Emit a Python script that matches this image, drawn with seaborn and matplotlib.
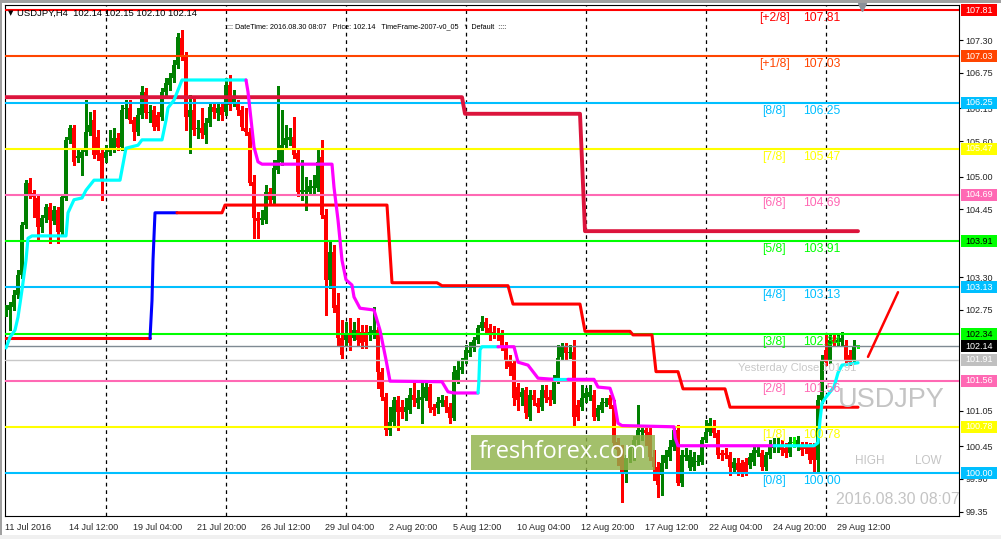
import matplotlib
matplotlib.use('Agg')
import matplotlib.pyplot as plt
import matplotlib.transforms as mtransforms
from matplotlib.patches import Rectangle
import numpy as np
import pandas as pd
import seaborn as sns

# H4 candles, bar 0 = left edge of the window
opens = [
    102.70, 102.75, 102.80, 103.00, 103.34, 104.18, 104.89, 104.72, 104.64, 104.15,
    104.30, 104.49, 104.25, 104.44, 104.07, 104.64, 105.62, 105.82, 105.31, 105.31,
    105.42, 105.75, 105.95, 105.67, 105.40, 105.31, 105.42, 105.48, 105.65, 105.50,
    106.14, 106.16, 105.95, 105.75, 106.04, 106.43, 106.07, 106.12, 106.04, 106.00,
    106.43, 106.55, 106.66, 106.88, 107.34, 107.05, 106.00, 106.12, 105.80, 105.82,
    105.70, 105.90, 106.17, 106.07, 106.17, 106.09, 106.55, 106.24, 106.24, 106.12,
    105.82, 105.75, 104.91, 104.30, 104.27, 104.27, 104.74, 104.61, 105.11, 105.25,
    105.53, 105.62, 105.67, 105.40, 104.74, 104.74, 104.74, 104.81, 104.81, 105.33,
    104.35, 103.26, 103.73, 102.83, 102.28, 102.24, 102.36, 102.28, 102.41, 102.38,
    102.38, 102.33, 102.33, 102.41, 101.70, 101.28, 100.73, 100.86, 101.23, 101.11,
    101.03, 101.06, 101.32, 101.18, 101.23, 101.27, 101.45, 101.11, 101.10, 101.18,
    101.23, 101.11, 100.93, 101.57, 101.74, 101.91, 102.02, 102.11, 102.24, 102.45,
    102.55, 102.45, 102.38, 102.36, 102.33, 102.13, 101.91, 101.86, 101.45, 101.28,
    101.40, 100.94, 101.32, 101.18, 101.11, 101.40, 101.28, 101.23, 101.57, 101.96,
    102.13, 102.02, 102.04, 101.15, 101.11, 101.27, 101.28, 101.32, 100.94, 101.06,
    101.18, 101.27, 101.15, 100.52, 100.39, 100.00, 100.25, 100.42, 100.56, 100.69,
    100.73, 100.69, 100.27, 100.10, 99.97, 100.17, 100.27, 100.44, 100.73, 99.83,
    100.27, 100.08, 100.10, 100.18, 100.18, 100.56, 100.69, 100.76, 100.68, 100.34,
    100.34, 100.30, 100.08, 100.17, 100.17, 100.18, 100.14, 100.18, 100.34, 100.34,
    100.10, 100.30, 100.42, 100.44, 100.47, 100.42, 100.34, 100.51, 100.44, 100.44,
    100.44, 100.44, 100.44, 100.22, 101.23, 102.08, 101.91, 102.24, 102.19, 102.21,
    102.16, 101.99, 101.91, 102.15,
]
closes = [
    102.78, 102.83, 103.00, 103.34, 104.18, 104.89, 104.69, 104.66, 104.15, 104.30,
    104.49, 104.27, 104.44, 104.07, 104.66, 105.62, 105.82, 105.25, 105.35, 105.42,
    105.75, 105.87, 105.36, 105.36, 104.94, 105.42, 105.48, 105.65, 105.50, 106.12,
    106.16, 105.95, 105.75, 106.04, 106.43, 106.07, 106.09, 105.84, 105.84, 106.43,
    106.58, 106.66, 106.88, 107.35, 107.05, 106.00, 106.12, 105.79, 105.82, 105.73,
    105.90, 106.17, 106.09, 106.16, 106.04, 106.55, 106.21, 106.33, 106.12, 105.84,
    105.75, 104.89, 104.30, 104.25, 104.30, 104.74, 104.61, 105.15, 105.28, 105.53,
    105.65, 105.67, 105.36, 104.74, 104.77, 104.77, 104.84, 104.84, 105.25, 104.35,
    103.26, 103.73, 102.78, 102.28, 101.99, 102.33, 102.19, 102.41, 102.24, 102.19,
    102.21, 102.38, 102.41, 101.70, 101.28, 100.73, 100.86, 101.23, 101.03, 101.03,
    101.11, 101.32, 101.23, 101.27, 101.28, 101.45, 101.10, 101.06, 101.20, 101.23,
    101.11, 100.93, 101.70, 101.74, 101.79, 102.08, 102.08, 102.24, 102.45, 102.55,
    102.45, 102.36, 102.35, 102.33, 102.13, 101.91, 101.79, 101.27, 101.23, 101.37,
    101.01, 101.32, 101.23, 101.11, 101.40, 101.27, 101.23, 101.57, 101.94, 102.13,
    102.02, 102.04, 100.94, 100.94, 101.27, 101.35, 101.37, 100.94, 101.10, 101.20,
    101.20, 101.15, 100.51, 100.39, 100.00, 100.25, 100.42, 100.56, 100.73, 100.73,
    100.68, 100.27, 100.10, 99.80, 100.17, 100.30, 100.44, 100.73, 99.83, 100.30,
    100.30, 100.30, 100.27, 100.20, 100.56, 100.69, 100.84, 100.68, 100.30, 100.30,
    100.30, 100.10, 100.18, 100.05, 100.00, 100.00, 100.27, 100.39, 100.39, 100.10,
    100.30, 100.47, 100.47, 100.47, 100.39, 100.34, 100.52, 100.52, 100.56, 100.39,
    100.41, 100.22, 100.22, 101.23, 101.91, 101.87, 102.24, 102.19, 102.24, 102.28,
    101.91, 101.87, 102.13, 102.14,
]
highs = [
    102.83, 102.88, 103.09, 103.42, 104.23, 104.94, 104.98, 104.77, 104.69, 104.35,
    104.54, 104.56, 104.50, 104.49, 104.69, 105.67, 105.87, 105.87, 105.45, 105.48,
    106.29, 106.09, 106.12, 105.79, 105.45, 105.53, 105.79, 105.82, 105.74, 106.21,
    106.29, 106.29, 106.00, 106.16, 106.53, 106.50, 106.21, 106.19, 106.09, 106.50,
    106.66, 106.75, 106.97, 107.42, 107.47, 107.10, 106.38, 106.34, 105.95, 106.16,
    105.99, 106.24, 106.24, 106.22, 106.24, 106.66, 106.71, 106.46, 106.29, 106.19,
    106.16, 105.82, 105.03, 104.40, 104.44, 104.86, 104.81, 105.28, 106.53, 106.12,
    105.87, 105.82, 106.00, 105.45, 105.28, 104.99, 104.94, 105.03, 105.48, 105.62,
    104.45, 103.93, 103.85, 103.04, 102.58, 102.55, 102.62, 102.55, 102.62, 102.50,
    102.50, 102.48, 102.80, 102.46, 101.77, 101.35, 101.11, 101.28, 101.30, 101.23,
    101.26, 101.43, 101.53, 101.40, 101.52, 101.57, 101.50, 101.16, 101.28, 101.32,
    101.30, 101.18, 101.80, 101.91, 101.94, 102.16, 102.21, 102.29, 102.50, 102.65,
    102.62, 102.51, 102.48, 102.45, 102.41, 102.21, 101.99, 101.91, 101.52, 101.43,
    101.45, 101.40, 101.40, 101.27, 101.48, 101.48, 101.40, 101.65, 102.16, 102.19,
    102.19, 102.16, 102.24, 101.23, 101.48, 101.43, 101.48, 101.40, 101.15, 101.27,
    101.27, 101.32, 101.23, 100.59, 100.47, 100.30, 100.47, 100.63, 101.15, 100.81,
    100.81, 100.76, 100.39, 100.19, 100.30, 100.39, 100.56, 100.78, 100.81, 100.39,
    100.42, 100.39, 100.35, 100.30, 100.61, 100.89, 100.93, 100.89, 100.73, 100.39,
    100.42, 100.35, 100.25, 100.25, 100.22, 100.25, 100.34, 100.46, 100.47, 100.39,
    100.35, 100.56, 100.59, 100.59, 100.56, 100.51, 100.61, 100.61, 100.63, 100.52,
    100.52, 100.51, 100.51, 101.32, 101.99, 102.33, 102.33, 102.36, 102.33, 102.38,
    102.24, 102.08, 102.24, 102.16,
]
lows = [
    102.65, 102.41, 102.75, 102.95, 103.29, 104.13, 104.64, 104.32, 103.93, 104.07,
    104.23, 103.88, 104.20, 103.88, 104.02, 104.61, 105.57, 105.20, 105.25, 105.03,
    105.36, 105.70, 105.31, 105.28, 104.61, 105.25, 105.36, 105.42, 105.45, 105.45,
    105.99, 105.90, 105.62, 105.70, 105.99, 105.99, 105.92, 105.79, 105.79, 105.95,
    106.38, 106.46, 106.60, 106.83, 106.97, 105.79, 105.40, 105.70, 105.65, 105.65,
    105.57, 105.85, 105.99, 105.95, 105.95, 106.04, 106.12, 106.19, 106.04, 105.79,
    105.70, 104.86, 103.96, 103.96, 104.20, 104.22, 104.54, 104.55, 105.06, 105.20,
    105.48, 105.53, 105.31, 104.67, 104.61, 104.44, 104.69, 104.72, 104.76, 104.30,
    102.67, 103.12, 102.72, 102.16, 101.94, 102.16, 102.08, 102.24, 102.16, 102.11,
    102.11, 102.24, 102.28, 101.43, 101.23, 100.64, 100.64, 100.81, 100.73, 100.93,
    100.89, 101.01, 101.13, 101.10, 100.84, 101.23, 101.03, 100.98, 101.01, 101.13,
    101.03, 100.84, 100.89, 101.52, 101.69, 101.86, 101.97, 102.06, 102.19, 102.41,
    102.36, 102.24, 102.28, 102.24, 102.08, 101.77, 101.65, 101.15, 101.06, 101.15,
    100.93, 100.89, 101.15, 101.03, 101.06, 101.20, 101.15, 101.18, 101.52, 101.91,
    101.91, 101.94, 100.81, 100.89, 101.06, 101.20, 101.23, 100.89, 100.89, 101.03,
    101.13, 101.10, 100.42, 100.14, 99.51, 99.85, 100.19, 100.22, 100.47, 100.56,
    100.47, 100.22, 99.88, 99.60, 99.63, 100.08, 100.22, 100.39, 99.80, 99.78,
    100.22, 100.05, 100.05, 100.13, 100.15, 100.52, 100.64, 100.61, 100.25, 100.22,
    100.25, 99.97, 100.00, 99.97, 99.95, 99.97, 100.08, 100.14, 100.29, 100.05,
    100.05, 100.25, 100.35, 100.35, 100.30, 100.27, 100.29, 100.44, 100.39, 100.30,
    100.34, 100.17, 100.02, 100.02, 101.18, 101.82, 101.86, 102.14, 102.16, 102.16,
    101.86, 101.82, 101.86, 102.11,
]

# fast trailing line (cyan = up, magenta = down)
trail_bars = [0, 1, 2.25, 3, 4, 5, 5.5, 6.5, 15, 15.5, 17, 19, 20, 22, 28.5, 30, 33, 34, 39, 40,
              40.5, 42, 43, 44, 60, 60.5, 62, 63, 64, 81.5, 82, 83, 84, 85, 86.5, 87, 88.5, 92,
              93.5, 95, 96, 109, 110.5, 112, 118, 118.2, 118.5, 119, 123, 127, 128, 130.5, 133,
              137, 140.5, 147, 148, 151, 152, 153, 154, 167, 167.3, 168, 192, 202, 203, 203.5,
              204, 205, 207, 208, 209, 213]
trail_vals = [102.11, 102.29, 102.41, 102.63, 103.09, 103.59, 103.96, 104.00, 104.00, 104.39,
              104.61, 104.64, 104.77, 104.94, 104.94, 105.48, 105.53, 105.62, 105.62, 105.95,
              106.16, 106.29, 106.46, 106.63, 106.63, 106.43, 105.50, 105.25, 105.21, 105.21,
              104.82, 104.27, 103.59, 103.26, 103.17, 102.97, 102.78, 102.75, 102.41, 101.91,
              101.55, 101.54, 101.37, 101.35, 101.35, 101.52, 102.08, 102.13, 102.13, 102.13,
              101.87, 101.82, 101.60, 101.58, 101.58, 101.58, 101.45, 101.43, 101.23, 100.84,
              100.80, 100.78, 100.59, 100.46, 100.46, 100.46, 100.51, 100.89, 101.18, 101.28,
              101.45, 101.69, 101.82, 101.86]
trail_up_ranges = [(0, 60), (118, 123), (137, 140.5), (192, 213)]

# slow step line (red, blue while rising)
slow_bars = [-0.3, 36, 36.5, 36.75, 37.25, 42.75, 54, 54.75, 95.25, 96.5, 107.75, 109, 125.5,
             126.75, 143.5, 144.75, 156, 156.75, 161.5, 162.5, 168, 169.25, 179.75, 181, 213]
slow_vals = [102.27, 102.27, 102.91, 103.59, 104.39, 104.39, 104.39, 104.52, 104.52, 103.21,
             103.21, 103.16, 103.16, 102.85, 102.85, 102.39, 102.39, 102.33, 102.33, 101.71,
             101.71, 101.42, 101.42, 101.11, 101.11]
slow_blue_ranges = [(36, 42.75)]

# crimson level line
crim_bars = [-0.3, 114, 114.75, 143.5, 144.75, 213]
crim_vals = [106.34, 106.34, 106.06, 106.06, 104.08, 104.08]

# Murrey math levels
mm_levels = [107.81, 107.03, 106.25, 105.47, 104.69, 103.91, 103.13, 102.34, 101.56, 100.78, 100.00]
mm_names = ['[+2/8]', '[+1/8]', '[8/8]', '[7/8]', '[6/8]', '[5/8]', '[4/8]', '[3/8]', '[2/8]',
            '[1/8]', '[0/8]']
mm_colors = ['#FF0000', '#FF4500', '#00BFFF', '#FFFF00', '#FF69B4', '#00FF00', '#00BFFF',
             '#00FF00', '#FF69B4', '#FFFF00', '#00BFFF']

last_price = 102.14
yesterday_close = 101.91
proj_bars = [215.5, 223]
proj_vals = [101.96, 103.05]

sep_bars = [24.9, 54.9, 84.9, 114.9, 144.9, 174.9, 204.9]
xtick_bars = [-0.25, 15.75, 31.75, 47.75, 63.75, 79.75, 95.75, 111.75, 127.75, 143.75, 159.75,
              175.75, 191.75, 207.75]
xtick_labels = ['11 Jul 2016', '14 Jul 12:00', '19 Jul 04:00', '21 Jul 20:00', '26 Jul 12:00',
                '29 Jul 04:00', '2 Aug 20:00', '5 Aug 12:00', '10 Aug 04:00', '12 Aug 20:00',
                '17 Aug 12:00', '22 Aug 04:00', '24 Aug 20:00', '29 Aug 12:00']
ytick_vals = [107.30, 106.75, 106.15, 105.60, 105.00, 104.45, 103.30, 102.75, 101.05, 100.45,
              99.90, 99.35]

sns.set_style('white')
plt.rcParams['font.family'] = ['Liberation Sans', 'DejaVu Sans']

W, H = 1001, 539
fig = plt.figure(figsize=(W / 100, H / 100), dpi=100)
fig.patch.set_facecolor('white')
ax = fig.add_axes([5 / W, 1 - 516 / H, 954 / W, 511 / H])
ax.set_xlim(-0.25, 238.25)
ax.set_ylim(99.275, 107.895)
px_y = (107.895 - 99.275) / 511
px_x = 1 / 954

n = min(len(opens), len(closes), len(highs), len(lows))
df = pd.DataFrame({'o': opens[:n], 'h': highs[:n], 'l': lows[:n], 'c': closes[:n]})
df['bar'] = np.arange(n)
doji = (df.c - df.o).abs() < 0.015
cols = np.where(doji, '#00FF00', np.where(df.c > df.o, '#008000', '#FF0000'))

# period separators
for b in sep_bars:
    ax.axvline(b, color='black', lw=0.9, ls=(0, (3, 3)), zorder=1)

ax.vlines(df.bar, df.l, df.h, colors=cols, lw=0.75, zorder=3, antialiased=False)
ax.bar(df.bar, np.maximum((df.c - df.o).abs(), 0.017), bottom=np.minimum(df.o, df.c),
       width=0.78, color=cols, lw=0, zorder=3, antialiased=False)

# horizontal levels
for lv, c in zip(mm_levels, mm_colors):
    ax.axhline(lv, color=c, lw=1.5, zorder=4)
ax.axhline(last_price, color='#7F8A93', lw=1.0, zorder=4)
ax.axhline(yesterday_close, color='#C8C8C8', lw=1.0, zorder=4)


def colored_runs(bars, vals, ranges, c_in, c_out, lw, z):
    segs = []
    for k in range(len(bars) - 1):
        inside = any(a <= bars[k] < b for a, b in ranges)
        c = c_in if inside else c_out
        if segs and segs[-1][0] == c:
            segs[-1][1].append(k + 1)
        else:
            segs.append([c, [k, k + 1]])
    for c, idx in segs:
        sns.lineplot(x=[bars[i] for i in idx], y=[vals[i] for i in idx], ax=ax, color=c, lw=lw,
                     sort=False, estimator=None, legend=False, zorder=z)


colored_runs(crim_bars, crim_vals, [], '#DC143C', '#DC143C', 2.8, 5)
colored_runs(slow_bars, slow_vals, slow_blue_ranges, '#0000FF', '#FF0000', 2.2, 5)
colored_runs(trail_bars, trail_vals, trail_up_ranges, '#00FFFF', '#FF00FF', 2.3, 6)
sns.lineplot(x=proj_bars, y=proj_vals, ax=ax, color='#FF0000', lw=1.8, sort=False,
             estimator=None, legend=False, zorder=6)

# level labels
for lv, name, c in zip(mm_levels, mm_names, mm_colors):
    ax.text(192, lv - 8 * px_y, name, color=c, fontsize=8.7, ha='center', va='center', zorder=7)
    ax.text(199.25, lv - 8 * px_y, f'{lv:.2f}', color=c, fontsize=8.7, ha='left', va='center',
            zorder=7)

ax.text(197.9, yesterday_close - 8 * px_y, f'Yesterday Close {yesterday_close:.2f}',
        color='#C8C8C8', fontsize=8, ha='center', va='center', zorder=7)
ax.text(221.3, 101.23, 'USDJPY', color='#C4C4C4', fontsize=19.5, ha='center', va='center', zorder=7)
ax.text(216, 100.20, 'HIGH', color='#C4C4C4', fontsize=8.5, ha='center', va='center', zorder=7)
ax.text(230.5, 100.20, 'LOW', color='#C4C4C4', fontsize=8.5, ha='center', va='center', zorder=7)
ax.text(222.9, 99.56, '2016.08.30 08:07', color='#C4C4C4', fontsize=11.4, ha='center',
        va='center', zorder=7, clip_on=True)

# watermark
ax.add_patch(Rectangle((116.25, 100.05), 46, 0.59, facecolor='#8FB24A', alpha=0.82,
                       edgecolor='none', zorder=8))
ax.text(139.25, 100.35, 'freshforex.com', color='white', fontsize=17, ha='center', va='center',
        family='Open Sans', zorder=9)

# right price boxes
trans = mtransforms.blended_transform_factory(ax.transAxes, ax.transData)


def price_box(level, face, tc):
    ax.add_patch(Rectangle((1 + 2 * px_x, level - 6 * px_y), 36 * px_x, 12 * px_y, transform=trans,
                           facecolor=face, edgecolor='none', clip_on=False, zorder=10))
    ax.text(1 + 6 * px_x, level, f'{level:.2f}', transform=trans, color=tc, fontsize=6.5,
            ha='left', va='center', clip_on=False, zorder=11)


for lv, c in zip(mm_levels, mm_colors):
    price_box(lv, c, 'black' if c == '#00FF00' else 'white')
price_box(last_price, 'black', 'white')
price_box(yesterday_close, '#C0C0C0', 'white')

# axes and ticks
ax.yaxis.tick_right()
ax.set_yticks(ytick_vals)
ax.set_yticklabels([f'{v:.2f}' for v in ytick_vals])
ax.set_xticks(xtick_bars)
ax.set_xticklabels(xtick_labels, ha='left')
ax.tick_params(axis='both', labelsize=6.5, length=3, width=0.8, color='black', direction='out')
ax.tick_params(axis='x', pad=2)
ax.tick_params(axis='y', pad=1.5, right=True)
for s in ax.spines.values():
    s.set_color('black')
    s.set_linewidth(0.8)
ax.set_xlabel('')
ax.set_ylabel('')

# chart shift marker
ax.plot([214], [107.895 - 1.5 * px_y], marker='v', color='#8A9099', ms=6, clip_on=False,
        zorder=12)

# header texts
fig.text(8 / W, 1 - 13 / H, '\u25bc', fontsize=5, color='black', ha='left', va='center',
         family='DejaVu Sans')
fig.text(17 / W, 1 - 13 / H, 'USDJPY,H4  102.14 102.15 102.10 102.14', fontsize=6.8,
         color='black', ha='left', va='center')
fig.text(225 / W, 1 - 27 / H,
         ':::: DateTime: 2016.08.30 08:07   Price: 102.14   TimeFrame-2007-v0_05   *  Default  ::::',
         fontsize=5.2, color='black', ha='left', va='center')

# window frame
fig.patches.append(Rectangle((0, 1 - 3 / H), 1, 3 / H, transform=fig.transFigure,
                             facecolor='#A0A0A0', edgecolor='none'))
fig.patches.append(Rectangle((0, 0), 2 / W, 1, transform=fig.transFigure,
                             facecolor='#A0A0A0', edgecolor='none'))
fig.patches.append(Rectangle((0, 0), 1, 4 / H, transform=fig.transFigure,
                             facecolor='#F0F0F0', edgecolor='none'))

fig.savefig('out.png', dpi=100)
